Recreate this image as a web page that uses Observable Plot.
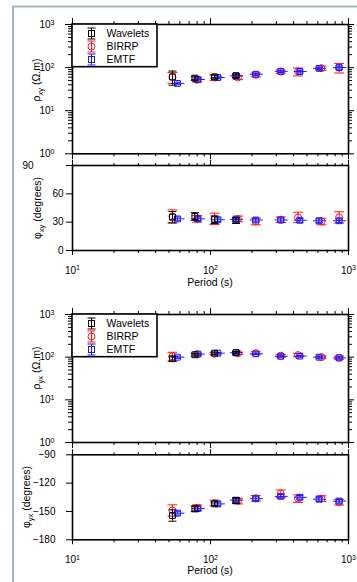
<!DOCTYPE html>
<html>
<head>
<meta charset="utf-8">
<script src="https://cdn.jsdelivr.net/npm/d3@7"></script>
<script src="https://cdn.jsdelivr.net/npm/@observablehq/plot@0.6"></script>
<style>
  html, body { margin: 0; padding: 0; background: #fff; }
  #fig { position: relative; width: 357px; height: 582px; overflow: hidden;
         font-family: "Liberation Sans", Arial, sans-serif; }
  #fig svg { position: absolute; left: 0; top: 0; }
</style>
</head>
<body>
<div id="fig"></div>
<script>
// ---- Periods (s) of each processing code ----
const wvPeriod = [53, 77, 107, 153];
const biPeriod = [53, 80, 107, 158, 213, 323, 431, 637, 855];
const emPeriod = [57.6, 81, 113, 153, 213, 323, 444, 612, 855];

// ---- Apparent resistivity rho_xy (ohm.m) and errors ----
const wvRhoXY = [61, 57, 61, 65];
const wvRhoXYErr = [22, 6, 6, 6];
const biRhoXY = [60, 52, 59, 59, 68, 81, 81, 97, 100];
const biRhoXYErr = [17, 6, 9, 6, 7, 7, 17, 11, 25];
const emRhoXY = [43, 53, 59, 64, 70, 82, 81, 96, 100];
const emRhoXYErr = [3, 4, 4, 4, 4, 5, 6, 6, 8];

// ---- Phase phi_xy (degrees) and errors ----
const wvPhiXY = [35.3, 36, 32.6, 31.7];
const wvPhiXYErr = [6, 4, 4, 3];
const biPhiXY = [36, 33.5, 33.5, 33.5, 30.7, 32.6, 35, 30.7, 35];
const biPhiXYErr = [7, 3.5, 6, 3, 3.5, 3, 5.5, 3.5, 6];
const emPhiXY = [33.5, 33.5, 32.6, 33, 32.3, 32.3, 32, 31.5, 31.5];
const emPhiXYErr = [2, 2, 2, 2, 2, 2, 2, 2, 2];

// ---- Apparent resistivity rho_yx (ohm.m) and errors ----
const wvRhoYX = [92, 114, 124, 127];
const wvRhoYXErr = [10, 8, 8, 8];
const biRhoYX = [105, 117, 120, 123, 124, 108, 112, 100, 97];
const biRhoYXErr = [25, 8, 8, 8, 10, 8, 10, 8, 8];
const emRhoYX = [100, 118, 124, 127, 120, 105, 106, 100, 96];
const emRhoYXErr = [6, 5, 5, 5, 5, 5, 5, 5, 5];

// ---- Phase phi_yx (degrees) and errors ----
const wvPhiYX = [-154.3, -147.2, -141.9, -138.4];
const wvPhiYXErr = [6, 3, 2, 3];
const biPhiYX = [-149, -146, -141, -139, -136, -131.3, -136.4, -136.4, -140.2];
const biPhiYXErr = [6, 3, 3, 3, 3, 4, 4, 3, 3];
const emPhiYX = [-151.8, -147, -142, -138, -136.5, -134, -135, -137, -139];
const emPhiYXErr = [2, 2, 2, 2, 2, 2, 2, 2, 2];

// ---- Legend and tick labels ----
const seriesNames = ["Wavelets", "BIRRP", "EMTF"];
const seriesColors = ["#000000", "#ff1a1a", "#1a1aff"];
const xMajor = [10, 100, 1000];
const xMinor = [20, 30, 40, 50, 60, 70, 80, 90, 200, 300, 400, 500, 600, 700, 800, 900];
const rhoMajor = [1, 10, 100, 1000];
const rhoMinor = [2, 3, 4, 5, 6, 7, 8, 9, 20, 30, 40, 50, 60, 70, 80, 90, 200, 300, 400, 500, 600, 700, 800, 900];
const phiXYTicks = [0, 30, 60, 90];
const phiYXTicks = [-180, -150, -120, -90];
const xTitle = "Period (s)";

const W = 357, H = 582, ML = 72, MR = 9;
const fig = d3.select("#fig");

const rows = (period, value, err) =>
  period.map((p, i) => ({p, v: value[i], lo: value[i] - err[i], hi: value[i] + err[i]}));

// short horizontal strokes drawn as dot symbols (error-bar caps, period bars)
const hline = (a, b) => ({draw(ctx) { ctx.moveTo(-a, 0); ctx.lineTo(b, 0); }});
const none = () => "";
const powLabel = d => `10^${Math.round(Math.log10(d))}`;

function dataMarks(list) {
  const m = [];
  // drawing order: BIRRP, EMTF, Wavelets on top
  for (const s of [list[1], list[2], list[0]]) {
    m.push(Plot.ruleX(s.data, {x: "p", y1: "lo", y2: "hi", stroke: s.color, strokeWidth: 1}));
    m.push(Plot.dot(s.data, {x: "p", y: "lo", r: 3, symbol: hline(s.cap, s.cap), stroke: s.color, fill: "none", strokeWidth: 1}));
    m.push(Plot.dot(s.data, {x: "p", y: "hi", r: 3, symbol: hline(s.cap, s.cap), stroke: s.color, fill: "none", strokeWidth: 1}));
    if (s.bar) m.push(Plot.dot(s.data, {x: "p", y: "v", r: 3, symbol: hline(6, 7), stroke: s.color, fill: "none", strokeWidth: 1}));
    m.push(Plot.dot(s.data, {x: "p", y: "v", r: s.r, symbol: s.symbol, stroke: s.color, fill: "none", strokeWidth: 1}));
  }
  return m;
}

function series(wv, bi, em) {
  return [
    {data: wv, color: seriesColors[0], symbol: "square", r: 3.3, cap: 4},
    {data: bi, color: seriesColors[1], symbol: "circle", r: 3.5, cap: 5},
    {data: em, color: seriesColors[2], symbol: "square", r: 3.3, cap: 3.5, bar: true}
  ];
}

function superscripts(svg) {
  d3.select(svg).selectAll("text").each(function () {
    const m = /^10\^(\d)$/.exec(this.textContent);
    if (!m) return;
    const t = d3.select(this);
    t.text("10");
    t.append("tspan").attr("dy", "-0.45em").attr("font-size", "7px").text(m[1]);
  });
}

function yTitle(svg, sym, sub, rest, x, y) {
  const t = d3.select(svg).append("text")
    .attr("transform", `translate(${x},${y}) rotate(-90)`)
    .attr("text-anchor", "middle").attr("font-size", "10.5px").attr("fill", "black");
  t.append("tspan").text(sym);
  t.append("tspan").attr("dy", "2.5").attr("font-size", "7.5px").text(sub);
  t.append("tspan").attr("dy", "-2.5").text(rest);
}

function xTitleText(svg, y) {
  d3.select(svg).append("text").attr("x", ML + (W - ML - MR) / 2).attr("y", y)
    .attr("text-anchor", "middle").attr("font-size", "10.5px").attr("fill", "black").text(xTitle);
}

function legend(svg, top) {
  const g = d3.select(svg).append("g");
  g.append("rect").attr("x", ML).attr("y", top).attr("width", 85).attr("height", 42.7)
    .attr("fill", "white").attr("stroke", "black").attr("stroke-width", 1.6);
  seriesNames.forEach((name, i) => {
    const cy = top + 9.5 + i * 13, cx = 91.5, c = seriesColors[i];
    g.append("line").attr("x1", cx).attr("x2", cx).attr("y1", cy - 5.5).attr("y2", cy + 5.5).attr("stroke", c);
    g.append("line").attr("x1", cx - 4).attr("x2", cx + 4).attr("y1", cy - 5.5).attr("y2", cy - 5.5).attr("stroke", c);
    g.append("line").attr("x1", cx - 4).attr("x2", cx + 4).attr("y1", cy + 5.5).attr("y2", cy + 5.5).attr("stroke", c);
    if (i === 1) g.append("circle").attr("cx", cx).attr("cy", cy).attr("r", 3.5).attr("fill", "none").attr("stroke", c);
    else g.append("rect").attr("x", cx - 3).attr("y", cy - 3).attr("width", 6).attr("height", 6).attr("fill", "none").attr("stroke", c);
    g.append("text").attr("x", 106.5).attr("y", cy + 3.8).attr("text-anchor", "start")
      .attr("font-size", "10.5px").attr("fill", "black").text(name);
  });
}

const baseStyle = {background: "transparent", fontFamily: "Liberation Sans, Arial, sans-serif", fontSize: "10px", color: "black", overflow: "visible"};

function rhoPanel(top, bottom, list) {
  return Plot.plot({
    width: W, height: H, marginLeft: ML, marginRight: MR, marginTop: top, marginBottom: H - bottom,
    style: baseStyle,
    x: {type: "log", domain: [10, 1000]},
    y: {type: "log", domain: [1, 1000]},
    marks: [
      Plot.axisY({anchor: "left", ticks: rhoMajor, tickSize: 7, tickPadding: 11, tickFormat: powLabel, label: null}),
      Plot.axisY({anchor: "left", ticks: rhoMinor, tickSize: 4, tickFormat: none, label: null}),
      Plot.axisY({anchor: "right", ticks: rhoMajor, tickSize: 5, tickFormat: none, label: null}),
      Plot.axisY({anchor: "right", ticks: rhoMinor, tickSize: 3, tickFormat: none, label: null}),
      Plot.axisX({anchor: "top", ticks: xMajor, tickSize: 7, tickFormat: none, label: null}),
      Plot.axisX({anchor: "top", ticks: xMinor, tickSize: 4, tickFormat: none, label: null}),
      Plot.axisX({anchor: "bottom", ticks: xMajor, tickSize: 6, tickFormat: none, label: null}),
      Plot.axisX({anchor: "bottom", ticks: xMinor, tickSize: 3, tickFormat: none, label: null}),
      ...dataMarks(list),
      Plot.frame({stroke: "black", strokeWidth: 1.6})
    ]
  });
}

function phiPanel(top, bottom, ticks, pad, list) {
  return Plot.plot({
    width: W, height: H, marginLeft: ML, marginRight: MR, marginTop: top, marginBottom: H - bottom,
    style: baseStyle,
    x: {type: "log", domain: [10, 1000]},
    y: {domain: [ticks[0], ticks[ticks.length - 1]]},
    marks: [
      Plot.axisY({anchor: "left", ticks, tickSize: 6, tickPadding: pad, tickFormat: d => String(d).replace("-", "\u2212"), label: null}),
      Plot.axisX({anchor: "top", ticks: xMajor, tickSize: 6, tickFormat: none, label: null}),
      Plot.axisX({anchor: "top", ticks: xMinor, tickSize: 3, tickFormat: none, label: null}),
      Plot.axisX({anchor: "bottom", ticks: xMajor, tickSize: 5, tickPadding: 11, tickFormat: powLabel, label: null}),
      Plot.axisX({anchor: "bottom", ticks: xMinor, tickSize: 3, tickFormat: none, label: null}),
      ...dataMarks(list),
      Plot.frame({stroke: "black", strokeWidth: 1.6})
    ]
  });
}

// ---- xy mode ----
const rxy = rhoPanel(24, 153.3, series(rows(wvPeriod, wvRhoXY, wvRhoXYErr), rows(biPeriod, biRhoXY, biRhoXYErr), rows(emPeriod, emRhoXY, emRhoXYErr)));
const pxy = phiPanel(165, 250, phiXYTicks, 3, series(rows(wvPeriod, wvPhiXY, wvPhiXYErr), rows(biPeriod, biPhiXY, biPhiXYErr), rows(emPeriod, emPhiXY, emPhiXYErr)));
// ---- yx mode ----
const ryx = rhoPanel(314, 442, series(rows(wvPeriod, wvRhoYX, wvRhoYXErr), rows(biPeriod, biRhoYX, biRhoYXErr), rows(emPeriod, emRhoYX, emRhoYXErr)));
const pyx = phiPanel(454.3, 539.3, phiYXTicks, 11, series(rows(wvPeriod, wvPhiYX, wvPhiYXErr), rows(biPeriod, biPhiYX, biPhiYXErr), rows(emPeriod, emPhiYX, emPhiYXErr)));

for (const svg of [rxy, pxy, ryx, pyx]) { fig.node().appendChild(svg); superscripts(svg); }

// page edge: left and top rules of the figure box
d3.select(pyx).append("path")
  .attr("d", "M13,600V6.5H360")
  .attr("fill", "none").attr("stroke", "#a4b4c9").attr("stroke-width", 2);

// the top phase label sits clear of the resistivity panel's last label
d3.select(pxy).selectAll("text").filter(function () { return this.textContent === "90"; })
  .attr("dx", -30);

legend(rxy, 24);
legend(ryx, 314);
yTitle(rxy, "\u03c1", "xy", " (\u03a9.m)", 40, 80);
yTitle(pxy, "\u03c6", "xy", " (degrees)", 41, 208);
yTitle(ryx, "\u03c1", "yx", " (\u03a9.m)", 40, 368);
yTitle(pyx, "\u03c6", "yx", " (degrees)", 30, 497);
xTitleText(pxy, 285.5);
xTitleText(pyx, 574);
</script>
</body>
</html>
